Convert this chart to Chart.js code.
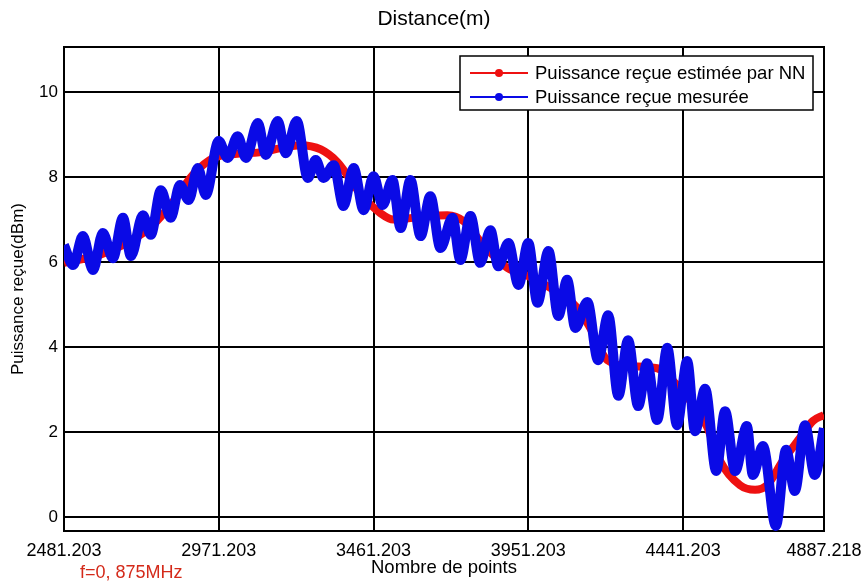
<!DOCTYPE html>
<html>
<head>
<meta charset="utf-8">
<script src="https://cdn.jsdelivr.net/npm/chart.js@4"></script>
<style>
html,body{margin:0;padding:0;background:#fff;}
#wrap{width:866px;height:583px;position:relative;}
</style>
</head>
<body>
<div id="wrap"><canvas id="c" width="866" height="583"></canvas></div>
<script>
const chartTitle = 'Distance(m)';
const xAxisTitle = 'Nombre de points';
const yAxisTitle = 'Puissance reçue(dBm)';
const noteText = 'f=0, 875MHz';
const seriesNames = ['Puissance reçue estimée par NN', 'Puissance reçue mesurée'];

const xTickValues = [2481.203, 2971.203, 3461.203, 3951.203, 4441.203, 4887.218];
const xTickLabels = ['2481.203', '2971.203', '3461.203', '3951.203', '4441.203', '4887.218'];
const yTickValues = [0, 2, 4, 6, 8, 10];

// Estimated NN power (red)
const redX = [2481, 2598, 2680, 2760, 2819, 2889, 2955, 3030, 3100, 3167, 3230, 3294, 3347, 3420, 3483, 3524, 3610, 3695, 3746, 3809, 3885, 3951, 4021, 4106, 4147, 4201, 4274, 4359, 4422, 4473, 4517, 4558, 4621, 4669, 4707, 4757, 4811, 4852, 4887];
const redY = [5.98, 6.18, 6.45, 6.85, 7.34, 8.05, 8.45, 8.55, 8.58, 8.68, 8.75, 8.65, 8.35, 7.6, 7.15, 7.0, 7.06, 7.1, 6.96, 6.4, 5.86, 5.67, 5.39, 4.92, 4.45, 3.69, 3.55, 3.5, 3.1, 2.64, 2.12, 1.32, 0.75, 0.64, 0.75, 1.32, 1.86, 2.26, 2.4];

// Measured power (blue)
const blueX = [2481, 2510, 2541, 2573, 2604, 2636, 2668, 2693, 2731, 2756, 2788, 2819, 2848, 2876, 2905, 2930, 2971, 2999, 3031, 3057, 3095, 3120, 3158, 3183, 3218, 3253, 3278, 3303, 3335, 3366, 3398, 3430, 3461, 3490, 3521, 3547, 3578, 3610, 3641, 3673, 3711, 3736, 3768, 3799, 3831, 3856, 3888, 3920, 3951, 3980, 4015, 4046, 4074, 4100, 4138, 4172, 4204, 4236, 4267, 4299, 4327, 4359, 4391, 4422, 4454, 4479, 4511, 4546, 4574, 4606, 4643, 4662, 4694, 4735, 4767, 4795, 4827, 4858, 4887];
const blueY = [6.40, 5.93, 6.61, 5.81, 6.68, 6.09, 7.04, 6.14, 7.10, 6.64, 7.69, 7.04, 7.81, 7.46, 8.21, 7.58, 8.85, 8.45, 8.96, 8.45, 9.27, 8.52, 9.32, 8.56, 9.32, 7.98, 8.40, 7.98, 8.28, 7.32, 8.21, 7.22, 8.02, 7.34, 7.93, 6.80, 7.93, 6.61, 7.55, 6.33, 7.04, 6.05, 7.08, 5.98, 6.75, 5.90, 6.45, 5.46, 6.45, 5.04, 6.26, 4.73, 5.58, 4.45, 5.06, 3.69, 4.75, 2.85, 4.16, 2.61, 3.62, 2.28, 3.98, 2.16, 3.67, 2.02, 3.02, 1.08, 2.49, 1.08, 2.14, 0.99, 1.67, -0.21, 1.58, 0.61, 2.16, 0.99, 2.09];

const redColor = '#ee1111';
const blueColor = '#0a0ae6';
const FONT = '"Liberation Sans", Arial, sans-serif';

const toPts = (xs, ys) => xs.map((x, i) => ({x: x, y: ys[i]}));

const framePlugin = {
  id: 'frame',
  beforeDatasetsDraw(chart) {
    const {ctx, chartArea: a} = chart;
    ctx.save();
    ctx.strokeStyle = '#000';
    ctx.lineWidth = 2;
    ctx.strokeRect(a.left, a.top, a.right - a.left, a.bottom - a.top);
    ctx.restore();
  },
  afterDraw(chart) {
    const {ctx, chartArea: a} = chart;
    ctx.save();
    ctx.fillStyle = '#000';
    ctx.textAlign = 'center';
    ctx.textBaseline = 'middle';
    ctx.font = '21px ' + FONT;
    ctx.fillText(chartTitle, 434, 19);
    ctx.font = '18.5px ' + FONT;
    ctx.fillText(xAxisTitle, (a.left + a.right) / 2, 568);
    ctx.save();
    ctx.translate(18, (a.top + a.bottom) / 2);
    ctx.rotate(-Math.PI / 2);
    ctx.font = '17px ' + FONT;
    ctx.fillText(yAxisTitle, 0, 0);
    ctx.restore();
    ctx.fillStyle = '#d42a1a';
    ctx.textAlign = 'left';
    ctx.font = '18px ' + FONT;
    ctx.fillText(noteText, 80, 573);
    const lx = 460, ly = 56, lw = 353, lh = 54;
    ctx.fillStyle = '#fff';
    ctx.fillRect(lx, ly, lw, lh);
    ctx.strokeStyle = '#000';
    ctx.lineWidth = 1.5;
    ctx.strokeRect(lx, ly, lw, lh);
    const rows = [chart.data.datasets[1], chart.data.datasets[0]];
    rows.forEach((ds, i) => {
      const y = 73 + i * 24;
      ctx.strokeStyle = ds.borderColor;
      ctx.lineWidth = 2;
      ctx.beginPath(); ctx.moveTo(470, y); ctx.lineTo(528, y); ctx.stroke();
      ctx.fillStyle = ds.borderColor;
      ctx.beginPath(); ctx.arc(499, y, 4, 0, Math.PI * 2); ctx.fill();
      ctx.fillStyle = '#000';
      ctx.font = '18.5px ' + FONT;
      ctx.textAlign = 'left';
      ctx.fillText(ds.label, 535, y + 1);
    });
    ctx.restore();
  }
};

new Chart(document.getElementById('c'), {
  type: 'line',
  data: {
    datasets: [
      {
        label: seriesNames[1],
        data: toPts(blueX, blueY),
        borderColor: blueColor,
        backgroundColor: blueColor,
        borderWidth: 10,
        pointRadius: 0,
        cubicInterpolationMode: 'monotone',
        order: 1
      },
      {
        label: seriesNames[0],
        data: toPts(redX, redY),
        borderColor: redColor,
        backgroundColor: redColor,
        borderWidth: 8,
        pointRadius: 0,
        cubicInterpolationMode: 'monotone',
        order: 2
      }
    ]
  },
  options: {
    responsive: false,
    animation: false,
    devicePixelRatio: 1,
    layout: {padding: {top: 47, right: 42, left: 0, bottom: 0}},
    plugins: {legend: {display: false}, title: {display: false}, tooltip: {enabled: false}},
    scales: {
      x: {
        type: 'linear',
        min: 2481.203,
        max: 4887.218,
        afterBuildTicks: (s) => { s.ticks = xTickValues.map(v => ({value: v})); },
        afterFit: (s) => { s.height = 52; s.paddingLeft = 0; s.paddingRight = 0; },
        ticks: {
          autoSkip: false,
          maxRotation: 0,
          padding: 9,
          color: '#000',
          font: {family: FONT, size: 18},
          callback: (v, i) => xTickLabels[i]
        },
        grid: {color: '#000', lineWidth: 2, drawTicks: false},
        border: {display: false}
      },
      y: {
        type: 'linear',
        min: -0.33,
        max: 11.06,
        afterBuildTicks: (s) => { s.ticks = yTickValues.map(v => ({value: v})); },
        afterFit: (s) => { s.width = 64; s.paddingTop = 0; s.paddingBottom = 0; },
        ticks: {
          padding: 6,
          color: '#000',
          font: {family: FONT, size: 17},
          callback: (v) => String(v)
        },
        grid: {color: '#000', lineWidth: 2, drawTicks: false},
        border: {display: false}
      }
    }
  },
  plugins: [framePlugin]
});
</script>
</body>
</html>
